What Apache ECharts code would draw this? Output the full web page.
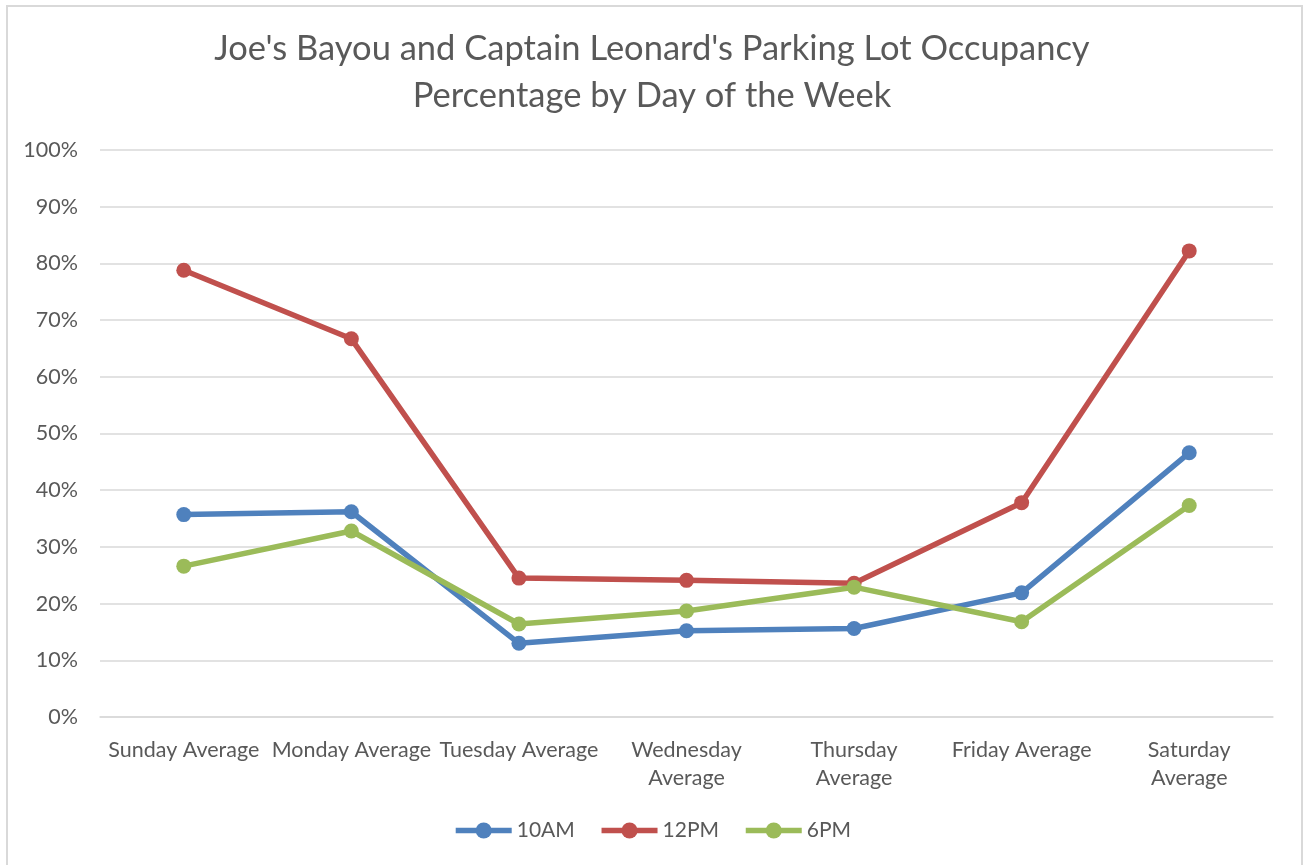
<!DOCTYPE html>
<html>
<head>
<meta charset="utf-8">
<script src="https://cdn.jsdelivr.net/npm/echarts@6/dist/echarts.min.js"></script>
<style>
  html, body { margin: 0; padding: 0; background: #fff; }
  #chart { width: 1304px; height: 865px; }
</style>
</head>
<body>
<div id="chart"></div>
<script>
// day labels (wrapped like the original)
const days = ['Sunday Average', 'Monday Average', 'Tuesday Average', 'Wednesday\nAverage',
              'Thursday\nAverage', 'Friday Average', 'Saturday\nAverage'];

// occupancy in percent
const am10 = [35.7, 36.2, 13.0, 15.2, 15.6, 21.9, 46.6];
const pm12 = [78.8, 66.7, 24.5, 24.1, 23.6, 37.8, 82.2];
const pm6  = [26.6, 32.8, 16.4, 18.7, 22.9, 16.8, 37.3];

const seriesNames = ['10AM', '12PM', '6PM'];
const colors = ['#4F81BD', '#C0504D', '#9BBB59'];

const font = 'Lato, "Open Sans", sans-serif';

const makeLine = (name, data, color) => ({
    name: name,
    type: 'line',
    data: data,
    symbol: 'circle',
    symbolSize: 15,
    lineStyle: {width: 5.5, color: color},
    itemStyle: {color: color},
    emphasis: {disabled: true}
});

let chart = echarts.init(document.getElementById('chart'));

chart.setOption({
    backgroundColor: '#fff',
    animation: false,
    color: colors,
    title: {
        text: "Joe's Bayou and Captain Leonard's Parking Lot Occupancy\nPercentage by Day of the Week",
        left: 'center',
        top: 20,
        textStyle: {
            fontFamily: font,
            fontSize: 34.5,
            fontWeight: 'normal',
            color: '#595959',
            lineHeight: 47
        }
    },
    graphic: [{
        type: 'rect',
        shape: {x: 7, y: 6, width: 1295, height: 862},
        style: {fill: 'none', stroke: '#d9d9d9', lineWidth: 2},
        silent: true
    }],
    legend: {
        bottom: 19,
        left: 'center',
        itemWidth: 56,
        itemHeight: 20,
        itemGap: 24,
        data: seriesNames,
        lineStyle: {width: 5.5},
        textStyle: {fontFamily: font, fontSize: 21, color: '#595959'}
    },
    grid: {
        left: 100,
        right: 31,
        top: 150,
        bottom: 148
    },
    xAxis: {
        type: 'category',
        data: days,
        boundaryGap: true,
        axisLine: {lineStyle: {color: '#d9d9d9', width: 1.5}},
        axisTick: {show: false},
        axisLabel: {
            fontFamily: font,
            fontSize: 21.5,
            color: '#595959',
            margin: 19,
            lineHeight: 28,
            interval: 0
        }
    },
    yAxis: {
        type: 'value',
        min: 0,
        max: 100,
        interval: 10,
        axisLine: {show: false},
        axisTick: {show: false},
        splitLine: {lineStyle: {color: '#d9d9d9', width: 1.5}},
        axisLabel: {
            fontFamily: font,
            fontSize: 21.5,
            color: '#595959',
            margin: 22,
            formatter: '{value}%'
        }
    },
    series: [
        makeLine(seriesNames[0], am10, colors[0]),
        makeLine(seriesNames[1], pm12, colors[1]),
        makeLine(seriesNames[2], pm6, colors[2])
    ]
});
</script>
</body>
</html>
